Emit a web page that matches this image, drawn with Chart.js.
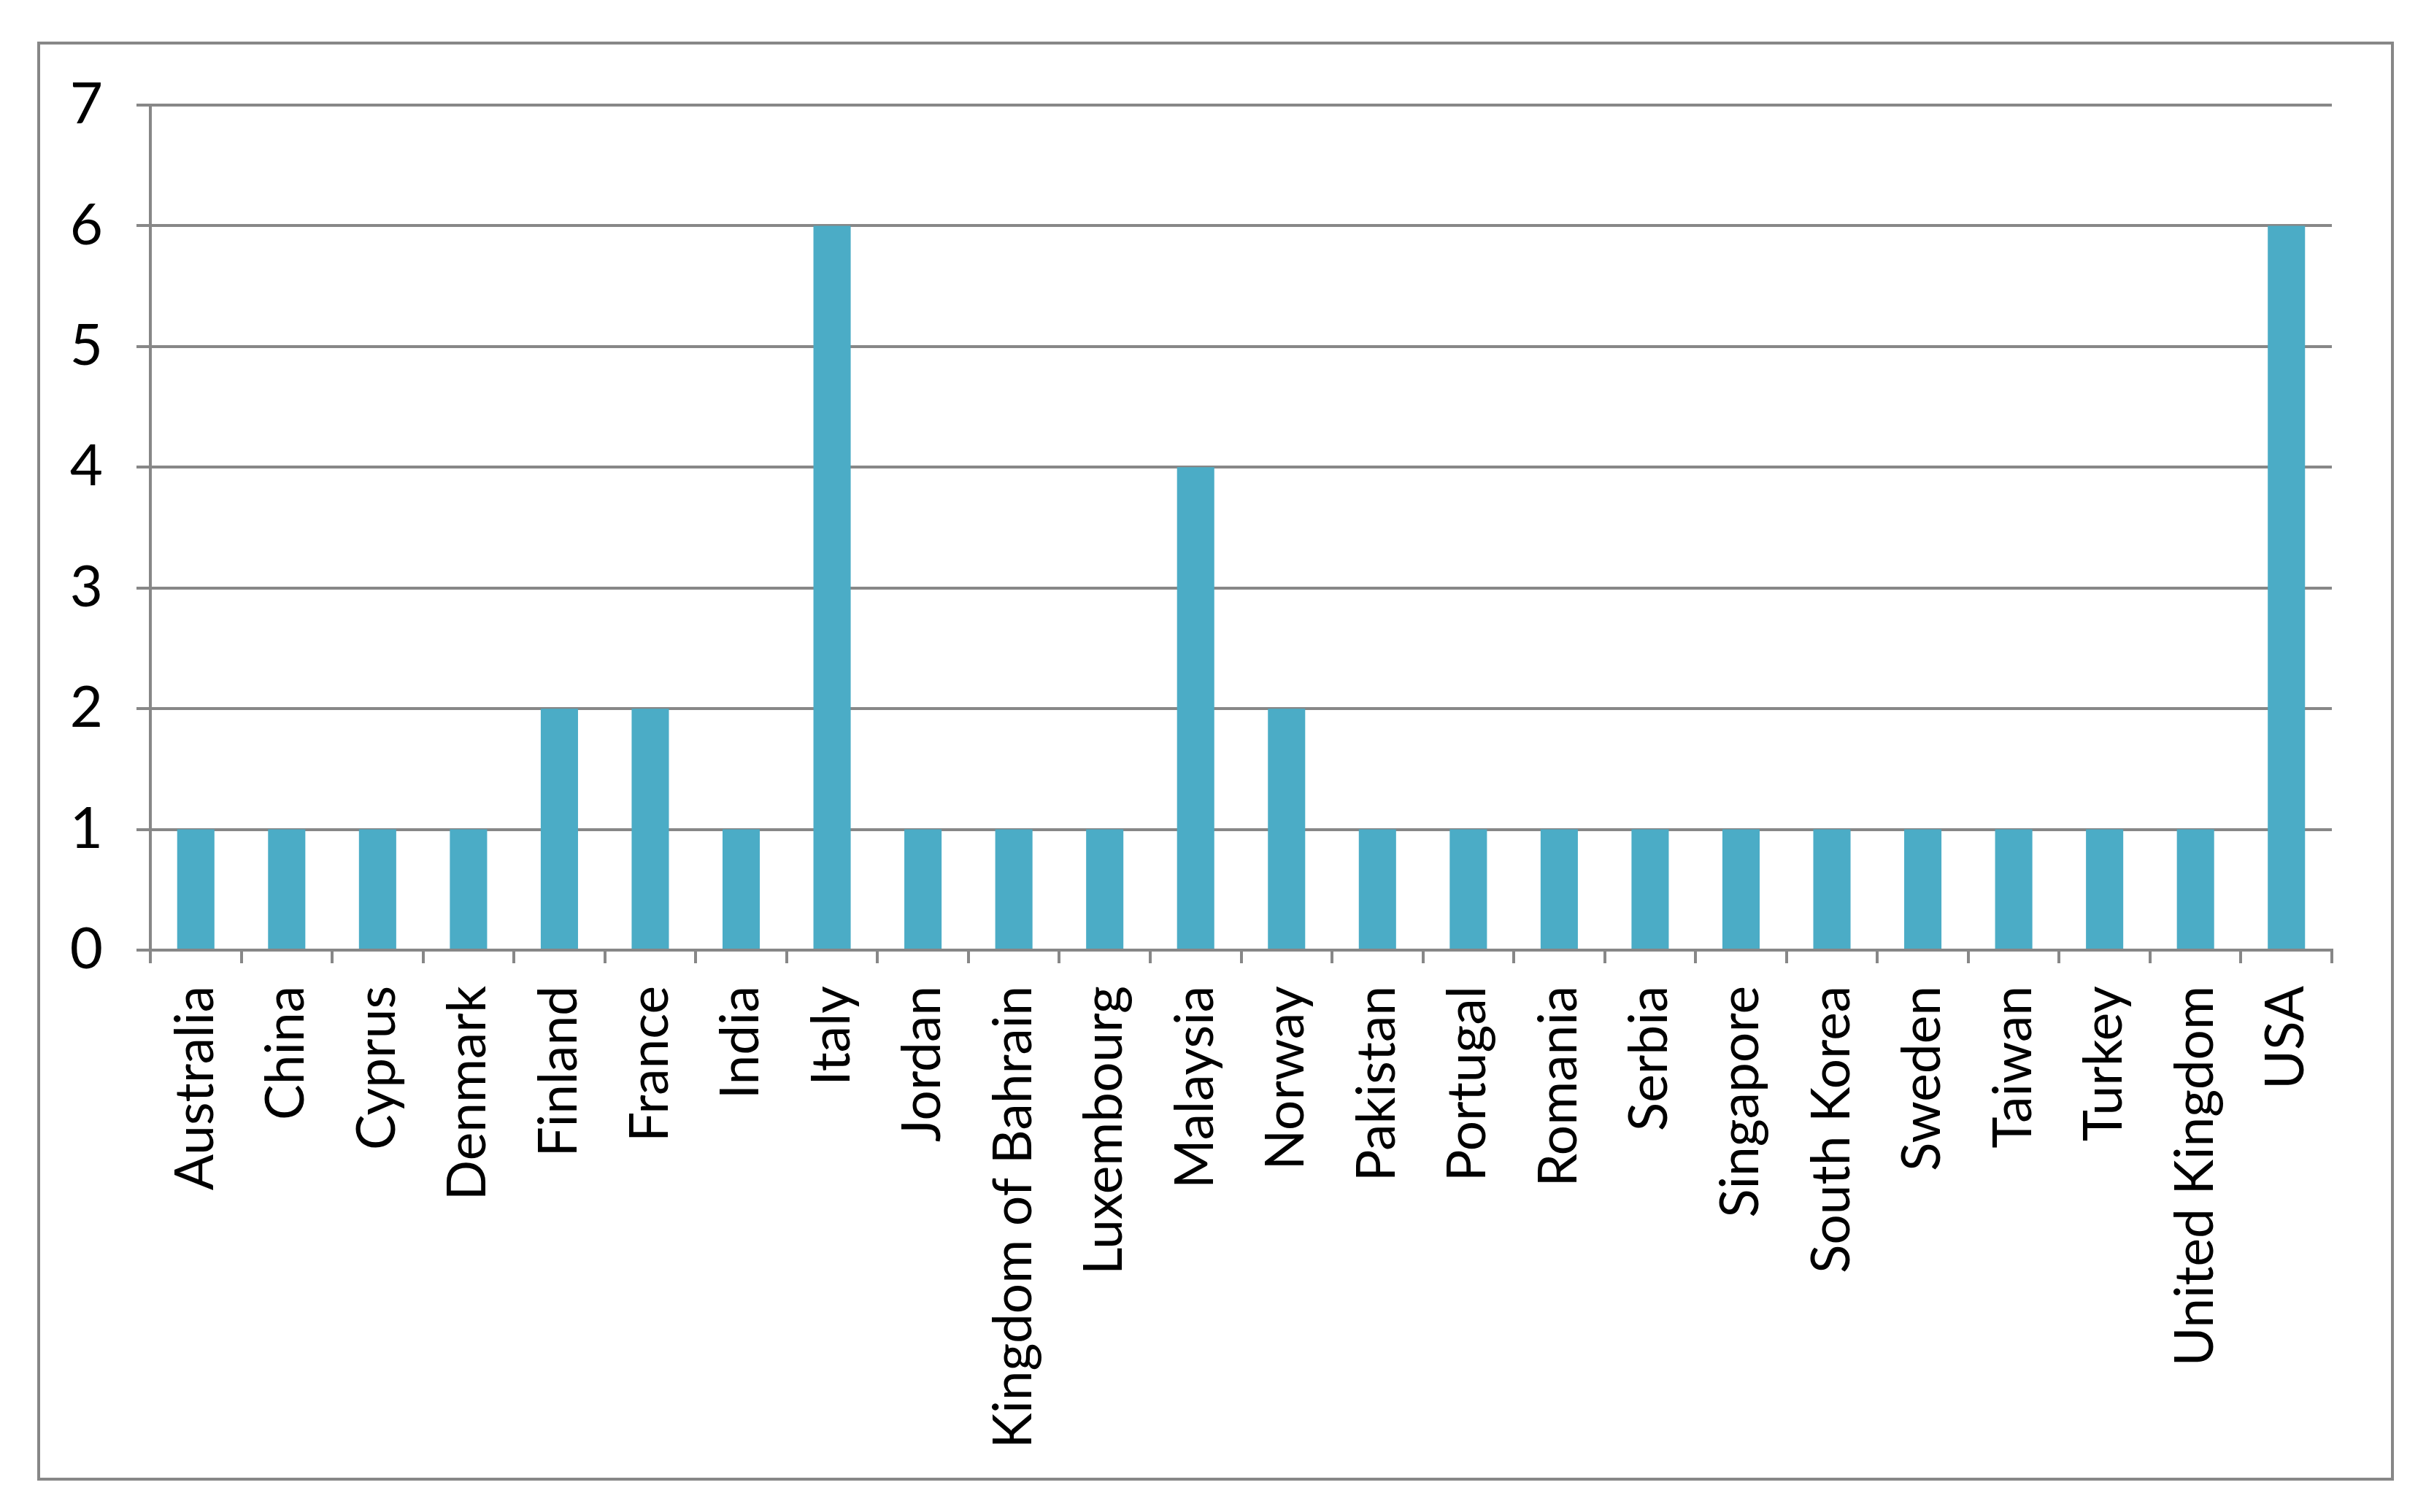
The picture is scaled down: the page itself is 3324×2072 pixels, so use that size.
<!DOCTYPE html>
<html>
<head>
<meta charset="utf-8">
<script src="https://cdn.jsdelivr.net/npm/chart.js@4.4.1/dist/chart.umd.min.js"></script>
<style>
    html, body { margin: 0; padding: 0; background: #fff; }
    #wrap { position: relative; width: 3324px; height: 2072px; }
    #frame {
        position: absolute; left: 51px; top: 57px;
        width: 3221px; height: 1964px;
        border: 4px solid #878787;
        pointer-events: none;
    }
</style>
</head>
<body>
<div id="wrap">
    <canvas id="barChart" width="3324" height="2072"></canvas>
    <div id="frame"></div>
</div>
<script>
// Data
const countries = ['Australia', 'China', 'Cyprus', 'Denmark', 'Finland', 'France', 'India', 'Italy',
    'Jordan', 'Kingdom of Bahrain', 'Luxembourg', 'Malaysia', 'Norway', 'Pakistan', 'Portugal',
    'Romania', 'Serbia', 'Singapore', 'South Korea', 'Sweden', 'Taiwan', 'Turkey', 'United Kingdom', 'USA'];
const counts = [1, 1, 1, 1, 2, 2, 1, 6, 1, 1, 1, 4, 2, 1, 1, 1, 1, 1, 1, 1, 1, 1, 1, 6];
const yTicks = [0, 1, 2, 3, 4, 5, 6, 7];

const axisGray = '#878787';

const ctxBar = document.getElementById('barChart').getContext('2d');
const barChart = new Chart(ctxBar, {
    type: 'bar',
    data: {
        labels: countries,
        datasets: [{
            data: counts,
            backgroundColor: '#4BACC6',
            borderWidth: 0,
            barPercentage: 0.41,
            categoryPercentage: 1
        }]
    },
    options: {
        responsive: false,
        animation: false,
        devicePixelRatio: 1,
        layout: { padding: { left: 0, top: 144, right: 129, bottom: 0 } },
        plugins: {
            legend: { display: false },
            tooltip: { enabled: false }
        },
        scales: {
            x: {
                afterFit: (s) => { s.height = 770; },
                grid: {
                    offset: true,
                    drawOnChartArea: false,
                    drawTicks: true,
                    tickLength: 18,
                    color: axisGray,
                    lineWidth: 4
                },
                border: { display: true, color: axisGray, width: 4 },
                ticks: {
                    color: '#000',
                    font: { family: 'Lato', size: 73 },
                    minRotation: 90,
                    maxRotation: 90,
                    autoSkip: false,
                    padding: 31
                }
            },
            y: {
                min: 0,
                max: 7,
                afterFit: (s) => { s.width = 206; },
                afterBuildTicks: (s) => { s.ticks = yTicks.map(v => ({ value: v })); },
                grid: {
                    color: axisGray,
                    lineWidth: 4,
                    drawTicks: true,
                    tickLength: 19
                },
                border: { display: true, color: axisGray, width: 4 },
                ticks: {
                    color: '#000',
                    font: { family: 'Lato', size: 78 },
                    padding: 46
                }
            }
        }
    }
});
</script>
</body>
</html>
